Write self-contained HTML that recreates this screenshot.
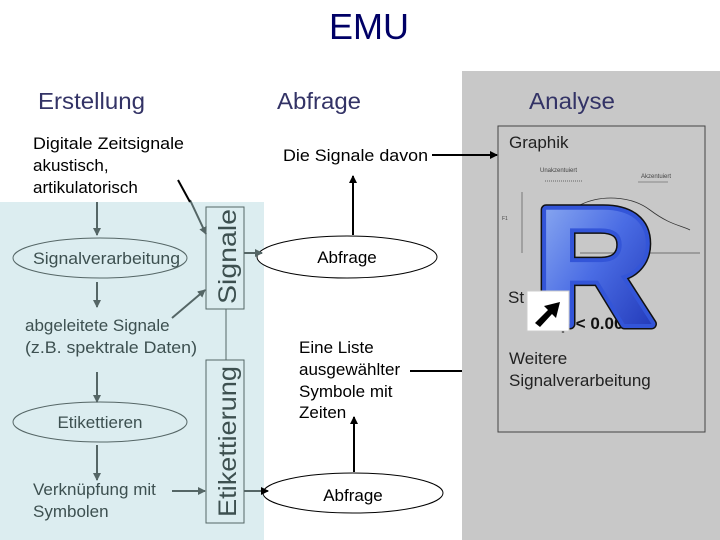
<!DOCTYPE html>
<html><head><meta charset="utf-8"><style>
html,body{margin:0;padding:0;background:#fff;}
body{width:720px;height:540px;overflow:hidden;position:relative;font-family:"Liberation Sans",Arial,sans-serif;}
</style></head><body>
<svg width="720" height="540" viewBox="0 0 720 540" xmlns="http://www.w3.org/2000/svg" style="position:absolute;left:0;top:0">
<defs>
<marker id="ag" markerWidth="8" markerHeight="8" refX="7" refY="4" orient="auto" markerUnits="userSpaceOnUse"><path d="M0,0 L8,4 L0,8 z" fill="#556666"/></marker>
<marker id="ab" markerWidth="8" markerHeight="8" refX="7" refY="4" orient="auto" markerUnits="userSpaceOnUse"><path d="M0,0 L8,4 L0,8 z" fill="#000"/></marker>
<linearGradient id="rg" x1="0" y1="0" x2="1" y2="1"><stop offset="0" stop-color="#9ab8f4"/><stop offset="0.5" stop-color="#4a6ce4"/><stop offset="1" stop-color="#1a2fb0"/></linearGradient>
</defs>
<rect x="0" y="202" width="264" height="338" fill="#dcedf0"/>
<rect x="462" y="71" width="258" height="469" fill="#c8c8c8"/>
<rect x="498" y="126" width="207" height="306" fill="#c8c8c8" stroke="#444" stroke-width="1"/>
<text x="369" y="39" font-size="36" fill="#000066" text-anchor="middle">EMU</text>
<text x="38" y="109" font-size="23" fill="#333366" textLength="107" lengthAdjust="spacingAndGlyphs">Erstellung</text>
<text x="277" y="109" font-size="23" fill="#333366" textLength="84" lengthAdjust="spacingAndGlyphs">Abfrage</text>
<text x="529" y="109" font-size="23" fill="#333366" textLength="86" lengthAdjust="spacingAndGlyphs">Analyse</text>
<g font-size="17" fill="#000">
<text x="33" y="149" textLength="151" lengthAdjust="spacingAndGlyphs">Digitale Zeitsignale</text>
<text x="33" y="171">akustisch,</text>
<text x="33" y="193">artikulatorisch</text>
<text x="283" y="161" textLength="145" lengthAdjust="spacingAndGlyphs">Die Signale davon</text>
<text x="299" y="353">Eine Liste</text>
<text x="299" y="375">ausgewählter</text>
<text x="299" y="397">Symbole mit</text>
<text x="299" y="418">Zeiten</text>
</g>
<g font-size="17" fill="#3d5050">
<text x="33" y="264" textLength="147" lengthAdjust="spacingAndGlyphs">Signalverarbeitung</text>
<text x="25" y="331">abgeleitete Signale</text>
<text x="25" y="353" textLength="172" lengthAdjust="spacingAndGlyphs">(z.B. spektrale Daten)</text>
<text x="100" y="428" text-anchor="middle">Etikettieren</text>
<text x="33" y="495">Verknüpfung mit</text>
<text x="33" y="517">Symbolen</text>
</g>
<ellipse cx="100" cy="258" rx="87" ry="20" fill="none" stroke="#556666" stroke-width="1"/>
<ellipse cx="100" cy="422" rx="87" ry="20" fill="none" stroke="#556666" stroke-width="1"/>
<ellipse cx="347" cy="257" rx="90" ry="21" fill="#fff" stroke="#000" stroke-width="1"/>
<text x="347" y="263" text-anchor="middle" font-size="17">Abfrage</text>
<ellipse cx="353" cy="493" rx="90" ry="20" fill="#fff" stroke="#000" stroke-width="1"/>
<text x="353" y="501" text-anchor="middle" font-size="17">Abfrage</text>
<rect x="206" y="207" width="38" height="102" fill="none" stroke="#556666"/>
<rect x="206" y="360" width="38" height="163" fill="none" stroke="#556666"/>
<line x1="226" y1="309" x2="226" y2="360" stroke="#556666"/>
<text transform="translate(236,304) rotate(-90)" font-size="25" fill="#3d5050" textLength="95" lengthAdjust="spacingAndGlyphs">Signale</text>
<text transform="translate(236,517) rotate(-90)" font-size="25" fill="#3d5050" textLength="151" lengthAdjust="spacingAndGlyphs">Etikettierung</text>
<g stroke="#556666" stroke-width="2" fill="none">
<line x1="97" y1="202" x2="97" y2="235" marker-end="url(#ag)"/>
<line x1="97" y1="282" x2="97" y2="307" marker-end="url(#ag)"/>
<line x1="97" y1="372" x2="97" y2="402" marker-end="url(#ag)"/>
<line x1="97" y1="445" x2="97" y2="480" marker-end="url(#ag)"/>
<line x1="172" y1="318" x2="205" y2="290" marker-end="url(#ag)"/>
<line x1="172" y1="491" x2="205" y2="491" marker-end="url(#ag)"/>
<line x1="244" y1="253" x2="262" y2="253" marker-end="url(#ag)"/>
<line x1="244" y1="491" x2="268" y2="491" marker-end="url(#ab)"/>
<line x1="190" y1="200" x2="206" y2="234" marker-end="url(#ag)"/>
</g>
<g stroke="#000" stroke-width="2" fill="none">
<line x1="178" y1="180" x2="190" y2="202"/>
<line x1="353" y1="235" x2="353" y2="176" marker-end="url(#ab)"/>
<line x1="354" y1="472" x2="354" y2="417" marker-end="url(#ab)"/>
<line x1="432" y1="155" x2="497" y2="155" marker-end="url(#ab)"/>
<line x1="410" y1="371" x2="462" y2="371"/>
</g>
<text x="509" y="148" font-size="17" fill="#222">Graphik</text>
<text x="540" y="172" font-size="6" fill="#444">Unakzentuiert</text>
<text x="641" y="178" font-size="6" fill="#444">Akzentuiert</text>
<line x1="545" y1="181" x2="583" y2="181" stroke="#666" stroke-dasharray="1,1"/>
<line x1="638" y1="182" x2="668" y2="182" stroke="#888"/>
<line x1="522" y1="192" x2="522" y2="253" stroke="#555" stroke-width="0.7"/>
<text x="502" y="220" font-size="5" fill="#444">F1</text>
<line x1="580" y1="253" x2="700" y2="253" stroke="#555" stroke-width="0.7"/>
<path d="M580,205 C600,195 630,195 650,210 C670,225 680,225 690,230" stroke="#333" fill="none" stroke-width="0.8"/>
<text x="508" y="303" font-size="17" fill="#222">St</text>
<text x="592" y="329" text-anchor="middle" font-size="17" font-weight="bold" fill="#111">p &lt; 0.00</text>
<text x="535" y="324" font-size="166" font-weight="bold" fill="#111" stroke="#111" stroke-width="11" stroke-linejoin="round">R</text>
<text x="535" y="324" font-size="166" font-weight="bold" fill="url(#rg)" stroke="#3355d8" stroke-width="8" stroke-linejoin="round">R</text>
<text x="535" y="324" font-size="166" font-weight="bold" fill="url(#rg)">R</text>
<rect x="527" y="291" width="42" height="40" fill="#fff" stroke="#ccc"/>
<path d="M535,323 L548,310 L544,306 L560,302 L556,318 L552,314 L540,327 z" fill="#000"/>
<text x="509" y="364" font-size="17" fill="#222">Weitere</text>
<text x="509" y="386" font-size="17" fill="#222">Signalverarbeitung</text>
</svg>
</body></html>
